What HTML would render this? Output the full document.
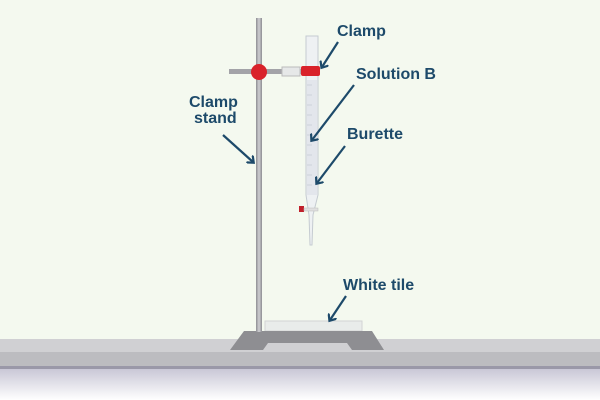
<!DOCTYPE html><html><head><style>body{margin:0}svg{display:block}text{font-family:"Liberation Sans",sans-serif;font-weight:bold;fill:#1d4a6a;font-size:16px}</style></head><body>
<svg width="600" height="400" viewBox="0 0 600 400">
<defs><linearGradient id="fl" x1="0" y1="0" x2="0" y2="1"><stop offset="0" stop-color="#c9c7d6"/><stop offset="1" stop-color="#ffffff"/></linearGradient>
<linearGradient id="rod" x1="0" x2="1"><stop offset="0" stop-color="#8d8d92"/><stop offset=".5" stop-color="#cfcfd3"/><stop offset="1" stop-color="#8d8d92"/></linearGradient>
<marker id="a" markerWidth="10" markerHeight="10" refX="5" refY="5" orient="auto" markerUnits="userSpaceOnUse"><path d="M0,0 L6,5 L0,10" fill="none" stroke="#1d4a6a" stroke-width="2.2"/></marker></defs>
<rect width="600" height="400" fill="#f4f9ef"/>
<rect x="0" y="339" width="600" height="13" fill="#d0d0d3"/>
<rect x="0" y="352" width="600" height="15" fill="#bcbcc0"/>
<rect x="0" y="366" width="600" height="3" fill="#9a98a8"/>
<rect x="0" y="369" width="600" height="31" fill="url(#fl)"/>
<rect x="265" y="321" width="97" height="10" fill="#e9ecea" stroke="#d2d4d4"/>
<path d="M244,331 L372,331 L384,350 L352,350 L347,343 L268,343 L263,350 L230,350 Z" fill="#8e8e92"/>
<rect x="256" y="18" width="6" height="314" fill="url(#rod)"/>
<rect x="229" y="69" width="75" height="5" fill="#a3a3a8"/>
<rect x="282" y="67" width="18" height="9" fill="#e6e8e8" stroke="#bbb"/>
<circle cx="259" cy="72" r="8" fill="#d9222a"/>
<path d="M306,36 L318,36 L318,195 L313,215 L312,245 L310,245 L309,215 L306,195 Z" fill="#eef1f3" stroke="#c5cbd1"/>
<rect x="307" y="80" width="10" height="115" fill="#e3e6ec"/>
<g stroke="#b8c0c8" stroke-width=".6"><path d="M307,85h5M307,95h5M307,105h5M307,115h5M307,125h5M307,135h5M307,145h5M307,155h5M307,165h5M307,175h5M307,185h5"/></g>
<rect x="301" y="66" width="19" height="10" rx="2" fill="#d9222a"/>
<rect x="299" y="206" width="5" height="6" fill="#c0202a"/>
<rect x="304" y="208" width="14" height="3" fill="#e0e0e0" stroke="#bbb" stroke-width=".5"/>
<text x="337" y="36">Clamp</text>
<text x="356" y="79">Solution B</text>
<text x="347" y="139">Burette</text>
<text x="189" y="107">Clamp</text>
<text x="194" y="123">stand</text>
<text x="343" y="290">White tile</text>
<g stroke="#1d4a6a" stroke-width="2.2" fill="none" marker-end="url(#a)">
<path d="M338,42 L322,67"/><path d="M354,85 L312,140"/><path d="M345,146 L317,183"/><path d="M223,135 L253,162"/><path d="M346,296 L330,320"/></g>
</svg></body></html>
